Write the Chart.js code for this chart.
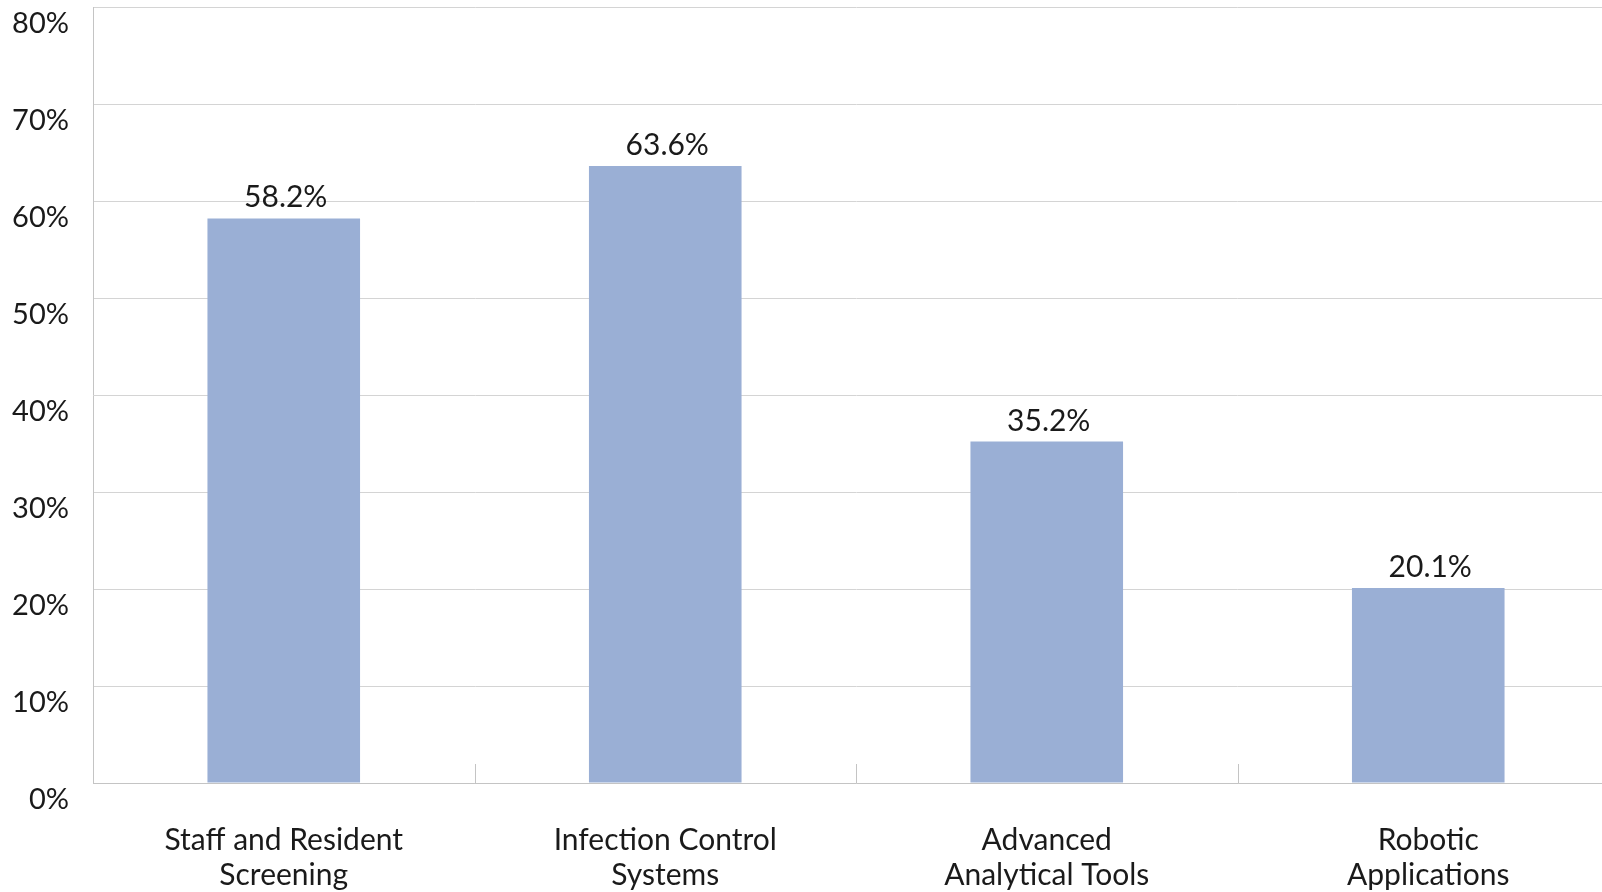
<!DOCTYPE html>
<html>
<head>
<meta charset="utf-8">
<script src="https://cdn.jsdelivr.net/npm/chart.js@4"></script>
<style>
    html, body { margin: 0; padding: 0; background: #fff; overflow: hidden; }
    #wrap { width: 1619px; height: 892px; }
</style>
</head>
<body>
<div id="wrap"><canvas id="chart"></canvas></div>
<script>
// Chart data
const categories = [
    ['Staff and Resident', 'Screening'],
    ['Infection Control', 'Systems'],
    ['Advanced', 'Analytical Tools'],
    ['Robotic', 'Applications']
];
const values = [58.2, 63.6, 35.2, 20.1];
const yTicks = [0, 10, 20, 30, 40, 50, 60, 70, 80];

const FONT = 'Lato, "Open Sans", sans-serif';
const TEXT = '#1a1a1a';
const GRID = '#d4d4d4';
const AXIS = '#c4c4c4';

// Value labels above bars
const valueLabels = {
    id: 'valueLabels',
    afterDatasetsDraw(chart) {
        const ctx = chart.ctx;
        const meta = chart.getDatasetMeta(0);
        ctx.save();
        ctx.font = '30px ' + FONT;
        ctx.fillStyle = TEXT;
        ctx.textAlign = 'center';
        ctx.textBaseline = 'alphabetic';
        meta.data.forEach((bar, i) => {
            ctx.fillText(values[i].toFixed(1) + '%', bar.x + 2, bar.y - 11);
        });
        ctx.restore();
    }
};

// Short tick marks between categories, pointing up from the axis
const categoryTicks = {
    id: 'categoryTicks',
    afterDatasetsDraw(chart) {
        const ctx = chart.ctx;
        const x = chart.scales.x;
        const bottom = chart.chartArea.bottom;
        ctx.save();
        ctx.strokeStyle = AXIS;
        ctx.lineWidth = 1;
        for (let i = 0; i < categories.length - 1; i++) {
            const px = Math.round((x.getPixelForValue(i) + x.getPixelForValue(i + 1)) / 2) + 0.5;
            ctx.beginPath();
            ctx.moveTo(px, bottom);
            ctx.lineTo(px, bottom - 19);
            ctx.stroke();
        }
        ctx.restore();
    }
};

new Chart(document.getElementById('chart').getContext('2d'), {
    type: 'bar',
    data: {
        labels: categories,
        datasets: [{
            data: values,
            backgroundColor: '#9aafd5',
            borderWidth: 0,
            barPercentage: 0.4,
            categoryPercentage: 1
        }]
    },
    options: {
        responsive: true,
        maintainAspectRatio: false,
        animation: false,
        layout: { padding: { top: 7, right: 0, bottom: 0, left: 0 } },
        plugins: {
            legend: { display: false },
            tooltip: { enabled: false }
        },
        scales: {
            x: {
                grid: { display: false, drawTicks: false },
                border: { display: true, color: AXIS, width: 1 },
                ticks: {
                    color: TEXT,
                    font: { family: FONT, size: 30, lineHeight: 1.17 },
                    padding: 40,
                    maxRotation: 0,
                    autoSkip: false
                },
                afterFit(s) {
                    s.height = 109;
                    s.paddingLeft = 0;
                    s.paddingRight = 0;
                }
            },
            y: {
                min: 0,
                max: 80,
                afterBuildTicks(s) { s.ticks = yTicks.map(v => ({ value: v })); },
                grid: { color: GRID, drawTicks: false },
                border: { display: true, color: AXIS, width: 1 },
                ticks: {
                    color: TEXT,
                    font: { family: FONT, size: 29 },
                    padding: 24,
                    labelOffset: 17,
                    callback: v => v + '%'
                },
                afterFit(s) {
                    s.width = 93;
                    s.paddingTop = 0;
                    s.paddingBottom = 0;
                }
            }
        }
    },
    plugins: [valueLabels, categoryTicks]
});
</script>
</body>
</html>
